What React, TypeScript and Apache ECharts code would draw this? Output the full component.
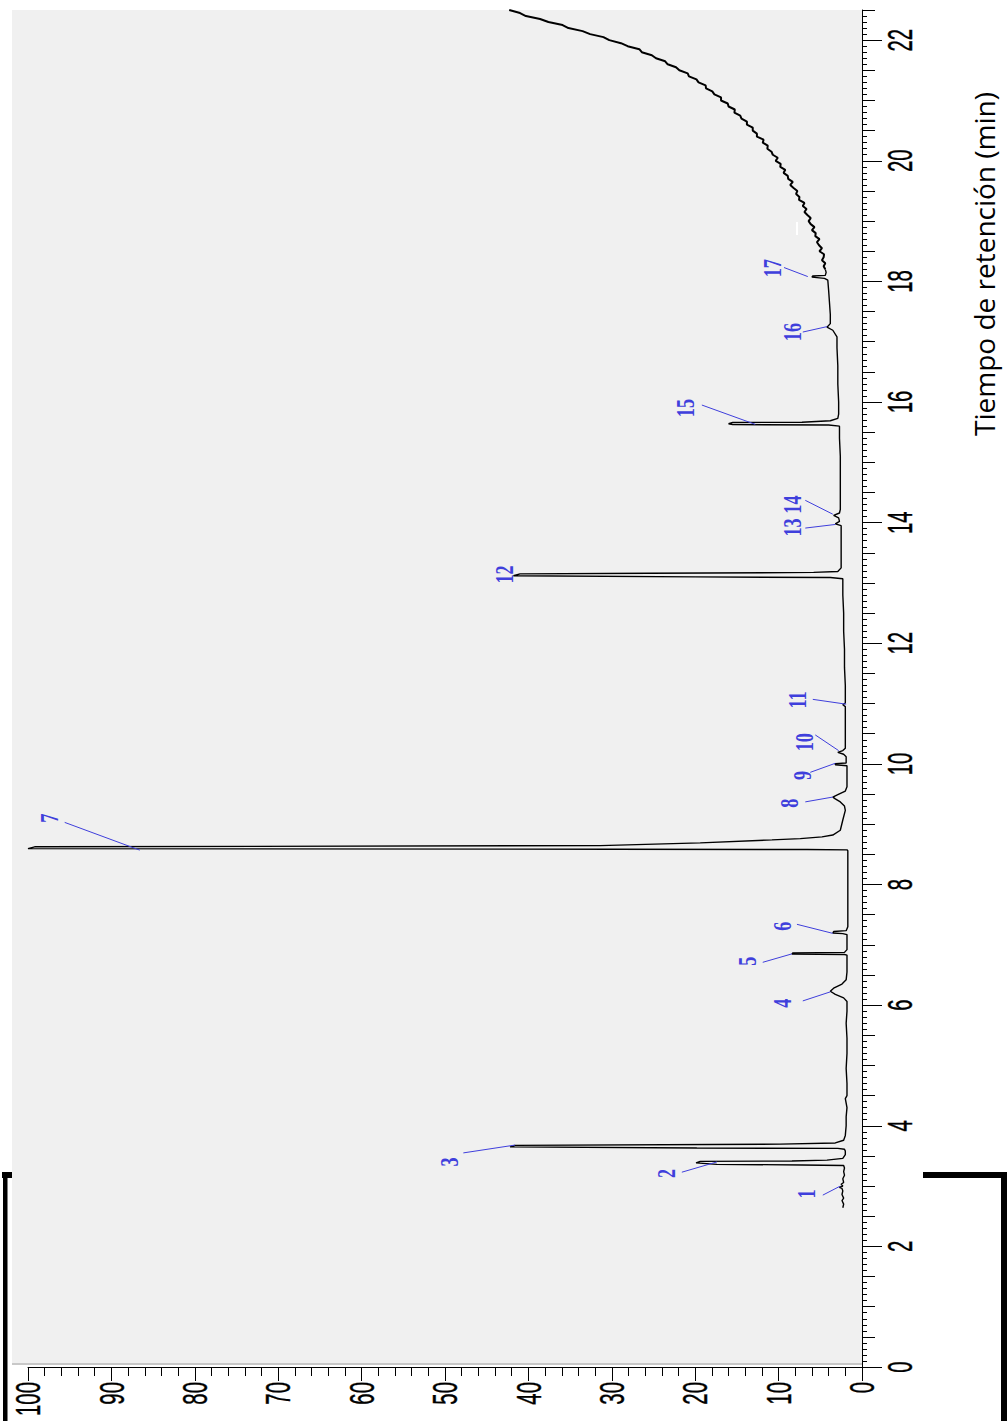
import React, { useEffect, useRef } from "react";
import * as echarts from "echarts";

// Axis ticks
const timeTicks = [0, 2, 4, 6, 8, 10, 12, 14, 16, 18, 20, 22];
const intensityTicks = [0, 10, 20, 30, 40, 50, 60, 70, 80, 90, 100];
const timeRange = [0, 22.5];
const axisTitle = "Tiempo de retención (min)";

// Chromatogram trace, [retention time (min), relative abundance (%)]
const traceStart = [
  [2.64, 2.3], [2.7, 2.2], [2.76, 2.4], [2.8, 2.2], [2.86, 2.4], [2.92, 2.3], [2.96, 2.4],
  [2.98, 2.7], [3.0, 2.3], [3.03, 2.5], [3.06, 2.2], [3.12, 2.3], [3.18, 2.1], [3.24, 2.2],
  [3.3, 2.1], [3.34, 2.2], [3.35, 7.2], [3.36, 17.4], [3.385, 19.9], [3.41, 19.4], [3.415, 8.4],
  [3.43, 4.2], [3.46, 2.3], [3.52, 2.0], [3.58, 2.0],
];

const traceEarly = [
  [3.61, 2.1], [3.625, 2.9], [3.63, 19.8], [3.65, 42.2], [3.675, 41.6], [3.695, 9.8], [3.715, 3.2],
  [3.76, 2.2], [3.84, 2.0], [4.0, 1.9], [4.15, 1.9], [4.3, 1.8], [4.45, 2.0], [4.5, 1.8], [4.7, 1.8],
  [4.95, 1.9], [5.2, 1.8], [5.45, 1.8], [5.7, 1.9], [5.9, 1.8], [6.06, 1.8], [6.12, 2.2], [6.18, 3.2],
  [6.23, 3.8], [6.28, 3.4], [6.35, 2.4], [6.42, 1.9], [6.55, 1.8], [6.7, 1.8], [6.83, 1.8], [6.84, 2.1],
  [6.845, 8.4], [6.865, 8.3], [6.875, 2.1], [6.92, 1.8], [7.05, 1.8], [7.17, 1.8], [7.185, 2.3],
  [7.195, 3.5], [7.22, 3.4], [7.235, 1.9], [7.3, 1.7], [7.55, 1.7], [7.8, 1.7], [8.05, 1.7],
  [8.3, 1.7], [8.56, 1.7],
];

const tracePeak7 = [
  [8.575, 1.8], [8.58, 6.6], [8.585, 30], [8.595, 100], [8.625, 99.2], [8.645, 31.4], [8.69, 19.4],
  [8.74, 10.8], [8.76, 7.4], [8.79, 4.8], [8.82, 3.5], [8.9, 2.6], [9.07, 2.3], [9.23, 2.0],
];

const traceMid = [
  [9.3, 2.1], [9.37, 2.6], [9.42, 3.2], [9.45, 3.5], [9.49, 2.9], [9.55, 2.0], [9.62, 1.8],
  [9.8, 1.8], [9.97, 1.8], [9.985, 3.2], [10.005, 3.2], [10.015, 1.9], [10.12, 1.9], [10.16, 2.2],
  [10.19, 2.9], [10.22, 2.3], [10.26, 2.0], [10.5, 2.0], [10.75, 2.0], [10.95, 2.0], [10.98, 2.3],
  [11.01, 2.0], [11.3, 2.0], [11.6, 2.1], [11.9, 2.1], [12.2, 2.2], [12.5, 2.2], [12.8, 2.3],
  [13.07, 2.3], [13.09, 3.8], [13.1, 20.0], [13.12, 41.8], [13.15, 41.0], [13.16, 25.4],
  [13.175, 5.8], [13.19, 2.9], [13.25, 2.5], [13.5, 2.5], [13.75, 2.5], [13.95, 2.5],
];

const traceLate = [
  [13.98, 3.2], [14.02, 2.7], [14.08, 2.8], [14.12, 3.4], [14.16, 2.7], [14.22, 2.6], [14.5, 2.6],
  [14.8, 2.6], [15.1, 2.6], [15.4, 2.7], [15.6, 2.7], [15.62, 4.0], [15.625, 15.5], [15.64, 16.0],
  [15.66, 15.5], [15.665, 7.2], [15.69, 3.8], [15.73, 2.9], [15.8, 2.8], [16.0, 2.8], [16.3, 2.9],
  [16.6, 2.9], [16.9, 3.0], [17.08, 3.0], [17.19, 3.5], [17.24, 4.2], [17.3, 3.8], [17.45, 3.8],
  [17.65, 3.9], [17.85, 4.0], [18.02, 4.1], [18.05, 4.5], [18.07, 6.0], [18.09, 5.9], [18.1, 4.4],
  [18.15, 4.3], [18.2, 4.4],
];

// Column bleed at the end of the temperature program (noisy)
const traceDrift = [
  [18.2, 4.4], [18.25, 4.6], [18.3, 4.4], [18.35, 4.8], [18.4, 4.6], [18.45, 4.55], [18.5, 5.1],
  [18.55, 4.8], [18.6, 5.15], [18.65, 5.4], [18.7, 5.1], [18.75, 5.6], [18.8, 5.55], [18.85, 6.0],
  [18.9, 5.7], [18.95, 6.15], [19.0, 6.4], [19.05, 6.15], [19.1, 6.55], [19.15, 6.9], [19.2, 6.65],
  [19.25, 7.1], [19.3, 6.9], [19.35, 7.55], [19.4, 7.5], [19.45, 7.9], [19.5, 7.75], [19.55, 8.2],
  [19.6, 8.6], [19.65, 8.3], [19.7, 8.85], [19.75, 8.9], [19.8, 9.4], [19.85, 9.2], [19.9, 9.8],
  [19.95, 9.75], [20.0, 10.35], [20.05, 10.1], [20.1, 10.7], [20.15, 10.85], [20.2, 11.35],
  [20.25, 11.3], [20.3, 11.9], [20.35, 11.8], [20.4, 12.6], [20.45, 12.6], [20.5, 13.1], [20.55, 13.1],
  [20.6, 13.8], [20.65, 13.8], [20.7, 14.45], [20.75, 14.6], [20.8, 15.3], [20.85, 15.25], [20.9, 16.0],
  [20.95, 16.1], [21.0, 16.9], [21.05, 16.9], [21.1, 17.7], [21.15, 17.95], [21.2, 18.7], [21.25, 18.75],
  [21.3, 19.6], [21.35, 19.85], [21.4, 20.75], [21.45, 20.9], [21.5, 21.9], [21.55, 22.3], [21.6, 23.3],
  [21.65, 23.6], [21.7, 24.7], [21.75, 25.2], [21.8, 26.4], [21.85, 26.7], [21.9, 28.1], [21.95, 28.9],
  [22.0, 30.3], [22.05, 31.0], [22.1, 32.6], [22.15, 33.5], [22.2, 35.2], [22.25, 35.9], [22.3, 37.6],
  [22.35, 38.6], [22.4, 40.3], [22.45, 41.0], [22.5, 42.3],
];

// Peak annotations: number, label centre and leader line, all as [time, abundance]
const peakNumbers = ["1", "2", "3", "4", "5", "6", "7", "8", "9", "10", "11", "12", "13", "14", "15", "16", "17"];
const peakLabelAt = [
  [2.87, 6.7], [3.21, 23.5], [3.4, 49.5], [6.03, 9.6], [6.73, 13.8], [7.31, 9.6], [9.1, 97.5],
  [9.35, 8.75], [9.81, 7.1], [10.36, 6.95], [11.06, 7.7], [13.14, 42.9], [13.92, 8.3], [14.3, 8.3],
  [15.9, 21.2], [17.16, 8.3], [18.22, 10.8],
];
const leaderFrom = [
  [2.85, 4.7], [3.23, 21.6], [3.55, 47.8], [6.07, 7.1], [6.71, 11.9], [7.34, 7.8], [9.03, 95.6],
  [9.37, 6.8], [9.86, 6.2], [10.48, 5.6], [11.07, 5.9], null, [13.91, 6.8], [14.37, 6.8],
  [15.95, 19.2], [17.16, 7.1], [18.23, 9.35],
];
const leaderTo = [
  [3.0, 2.6], [3.4, 17.4], [3.68, 41.6], [6.22, 3.8], [6.85, 8.4], [7.19, 3.5], [8.57, 86.6],
  [9.45, 3.5], [10.01, 3.2], [10.22, 2.8], [10.99, 1.9], null, [13.97, 3.2], [14.14, 3.5],
  [15.63, 12.8], [17.25, 4.2], [18.08, 6.5],
];

const BLUE = "#3f3fdc";
const TICK_FONT = "34.5px 'Liberation Sans', Arial, sans-serif";
const PEAK_FONT = "bold 26px 'Liberation Serif', 'Times New Roman', serif";

export default function App() {
  const ref = useRef<HTMLDivElement>(null);

  useEffect(() => {
    const el = ref.current;
    if (!el) return;
    const chart = echarts.init(el, null, { renderer: "svg" });

    const toXY = (pts: number[][]) => pts.map(([t, v]) => [v, t]);
    const mainTrace = [...traceStart, ...traceEarly, ...tracePeak7, ...traceMid, ...traceLate];
    const leaderData: any[] = [];
    leaderFrom.forEach((a, i) => {
      const b = leaderTo[i];
      if (a && b) leaderData.push({ coords: [[a[1], a[0]], [b[1], b[0]]] });
    });

    const black = { color: "#000", width: 1 };
    const traceSeries = (data: number[][], width: number) => ({
      type: "line",
      data: toXY(data),
      xAxisIndex: 0,
      yAxisIndex: 0,
      symbol: "none",
      showSymbol: false,
      silent: true,
      clip: true,
      z: 3,
      lineStyle: { color: "#000", width, join: "bevel" },
    });

    chart.setOption({
      animation: false,
      backgroundColor: "#fff",
      grid: { left: 28, right: 146, top: 10, bottom: 54, containLabel: false },
      xAxis: {
        type: "value",
        min: 0,
        max: 100,
        interval: 10,
        inverse: true,
        position: "bottom",
        axisLine: { show: true, lineStyle: black },
        axisTick: { show: true, length: 14, lineStyle: black },
        minorTick: { show: true, splitNumber: 5, length: 9, lineStyle: black },
        axisLabel: { show: false },
        splitLine: { show: false },
        minorSplitLine: { show: false },
      },
      yAxis: [
        {
          type: "value",
          min: timeRange[0],
          max: timeRange[1],
          interval: 2,
          position: "right",
          axisLine: { show: true, lineStyle: black },
          axisTick: { show: true, length: 20, lineStyle: black, customValues: timeTicks },
          minorTick: { show: true, splitNumber: 20, length: 5, lineStyle: black },
          axisLabel: { show: false },
          splitLine: { show: false },
          minorSplitLine: { show: false },
        },
        {
          type: "value",
          min: timeRange[0],
          max: timeRange[1],
          interval: 0.5,
          position: "right",
          offset: 0,
          axisLine: { show: false },
          axisTick: { show: true, length: 13, lineStyle: black },
          axisLabel: { show: false },
          splitLine: { show: false },
        },
      ],
      series: [
        traceSeries(mainTrace, 1.4),
        traceSeries(traceDrift, 2),
        {
          type: "lines",
          coordinateSystem: "cartesian2d",
          xAxisIndex: 0,
          yAxisIndex: 0,
          data: leaderData,
          symbol: ["none", "none"],
          silent: true,
          z: 4,
          lineStyle: { color: BLUE, width: 1, opacity: 1, curveness: 0 },
        },
      ],
    });

    const g: any[] = [];
    // plot panel and its lower edge
    g.push({ type: "rect", z: -100, shape: { x: 12, y: 10, width: 850, height: 1354 }, style: { fill: "#f0f0f0" } });
    g.push({ type: "line", z: -99, shape: { x1: 12, y1: 1364, x2: 862, y2: 1364 }, style: { stroke: "#c8c8c8", lineWidth: 2 } });
    g.push({ type: "rect", z: -98, shape: { x: 796, y: 222, width: 2, height: 13 }, style: { fill: "#ffffff" } });

    // page brackets
    g.push({ type: "rect", shape: { x: 2, y: 1172, width: 10, height: 6 }, style: { fill: "#000" } });
    g.push({ type: "rect", shape: { x: 3, y: 1172, width: 4.5, height: 249 }, style: { fill: "#000" } });
    g.push({ type: "rect", shape: { x: 923, y: 1172, width: 84, height: 6 }, style: { fill: "#000" } });
    g.push({ type: "rect", shape: { x: 1001, y: 1172, width: 6, height: 249 }, style: { fill: "#000" } });

    const tickText = (text: string, x: number, y: number, align: string) => ({
      type: "text",
      x,
      y,
      rotation: Math.PI / 2,
      scaleX: 0.59,
      scaleY: 1,
      style: {
        text,
        font: TICK_FONT,
        fill: "#000",
        stroke: "#000",
        lineWidth: 0.4,
        align,
        textAlign: align,
        verticalAlign: "middle",
        textVerticalAlign: "middle",
      },
    });

    // intensity tick labels
    intensityTicks.forEach((v) => {
      const px = chart.convertToPixel({ xAxisIndex: 0 } as any, v) as unknown as number;
      g.push(tickText(String(v), px, 1382, "right"));
    });

    // retention time tick labels
    timeTicks.forEach((v) => {
      const py = chart.convertToPixel({ yAxisIndex: 0 } as any, v) as unknown as number;
      g.push(tickText(String(v), 900, py, "center"));
    });

    // peak numbers
    peakNumbers.forEach((n, i) => {
      const [t, v] = peakLabelAt[i];
      const p = chart.convertToPixel({ xAxisIndex: 0, yAxisIndex: 0 } as any, [v, t]) as unknown as number[];
      g.push({
        type: "text",
        x: p[0],
        y: p[1],
        z: 10,
        rotation: Math.PI / 2,
        scaleX: 0.7,
        scaleY: 1,
        style: {
          text: n,
          font: PEAK_FONT,
          fill: BLUE,
          align: "center",
          textAlign: "center",
          verticalAlign: "middle",
          textVerticalAlign: "middle",
        },
      });
    });

    // axis title
    g.push({
      type: "text",
      x: 983.5,
      y: 264,
      rotation: Math.PI / 2,
      style: {
        text: axisTitle,
        font: "28px 'Open Sans', 'Noto Sans', sans-serif",
        fill: "#000",
        align: "center",
        textAlign: "center",
        verticalAlign: "middle",
        textVerticalAlign: "middle",
      },
    });

    chart.setOption({ graphic: { elements: g } });

    return () => {
      chart.dispose();
    };
  }, []);

  return (
    <div
      ref={ref}
      style={{ position: "fixed", left: 0, top: 0, width: 1008, height: 1421, background: "#fff" }}
    />
  );
}
